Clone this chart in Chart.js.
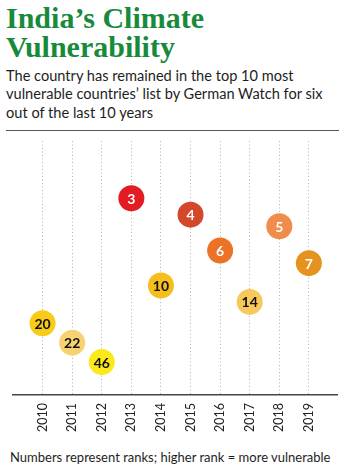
<!DOCTYPE html>
<html>
<head>
<meta charset="utf-8">
<script src="https://cdn.jsdelivr.net/npm/chart.js@4/dist/chart.umd.min.js"></script>
<style>
  body { margin: 0; background: #fff; width: 350px; height: 469px; overflow: hidden; position: relative; }
  #title { position: absolute; left: 6px; top: 3px; font-family: 'Liberation Serif', serif; font-weight: bold; font-size: 30px; line-height: 29px; color: #178a3c; white-space: nowrap; }
  #sub { position: absolute; left: 6px; top: 67px; font-family: Lato, sans-serif; font-size: 14.6px; line-height: 18.3px; color: #1e1e1e; white-space: nowrap; }
  #rule { position: absolute; left: 6px; top: 130px; width: 333px; height: 1px; background: #555; }
  #chart { position: absolute; left: 0; top: 128px; }
  #note { position: absolute; left: 10px; top: 448px; font-family: Lato, sans-serif; font-size: 13px; line-height: 18px; color: #1e1e1e; white-space: nowrap; }
</style>
</head>
<body>
<div id="title">India’s Climate<br>Vulnerability</div>
<div id="sub">The country has remained in the top 10 most<br>vulnerable countries’ list by German Watch for six<br>out of the last 10 years</div>
<div id="rule"></div>
<canvas id="chart" width="350" height="307"></canvas>
<div id="note">Numbers represent ranks; higher rank = more vulnerable</div>
<script>
'use strict';

let years = [2010, 2011, 2012, 2013, 2014, 2015, 2016, 2017, 2018, 2019];
let ranks = [20, 22, 46, 3, 10, 4, 6, 14, 5, 7];
// vertical level of each bubble in the graphic (not a linear rank scale)
let levels = [74, 54, 34, 203, 113, 186, 149, 96, 174, 136];

let bubbleColors = ['#f7cb16', '#f6d272', '#fbe91c', '#e31b23', '#f5be1c',
  '#d3472a', '#ec7225', '#f7c95c', '#f08c4c', '#e5931e'];
let textColors = ranks.map(r => r <= 7 ? '#ffffff' : '#111111');

let points = [];
for (let i = 0; i < years.length; i++) {
  points.push({x: years[i], y: levels[i]});
}

let rankLabels = {
  id: 'rankLabels',
  afterDatasetsDraw(chart) {
    let ctx = chart.ctx;
    let meta = chart.getDatasetMeta(0);
    ctx.save();
    ctx.font = 'bold 14px Lato, sans-serif';
    ctx.textAlign = 'center';
    ctx.textBaseline = 'middle';
    meta.data.forEach((pt, i) => {
      ctx.fillStyle = textColors[i];
      ctx.fillText(String(ranks[i]), pt.x, pt.y + 1);
    });
    ctx.restore();
  }
};

let ctx = document.getElementById('chart');
let myChart = new Chart(ctx, {
  type: 'scatter',
  data: {
    datasets: [{
      data: points,
      backgroundColor: bubbleColors,
      borderWidth: 0,
      pointRadius: 13,
      pointHoverRadius: 13
    }]
  },
  options: {
    responsive: false,
    animation: false,
    devicePixelRatio: 1,
    layout: { padding: { top: 5, left: 6, right: 11, bottom: 0 } },
    plugins: { legend: { display: false }, tooltip: { enabled: false } },
    scales: {
      x: {
        type: 'linear',
        position: 'bottom',
        min: 2009,
        max: 2019.95,
        afterBuildTicks: function(scale) {
          scale.ticks = years.map(v => ({value: v}));
        },
        afterFit: function(scale) {
          scale.height = 40;
        },
        grid: { color: '#b4b4b4', lineWidth: 1, drawTicks: false },
        border: { display: true, color: '#444', width: 1.5, dash: [1, 2.5] },
        ticks: {
          autoSkip: false,
          minRotation: 90,
          maxRotation: 90,
          padding: 8,
          color: '#222',
          font: { family: 'Lato', size: 12.5 },
          callback: v => String(v)
        }
      },
      y: {
        display: false,
        min: 0,
        max: 262
      }
    }
  },
  plugins: [rankLabels]
});
</script>
</body>
</html>
